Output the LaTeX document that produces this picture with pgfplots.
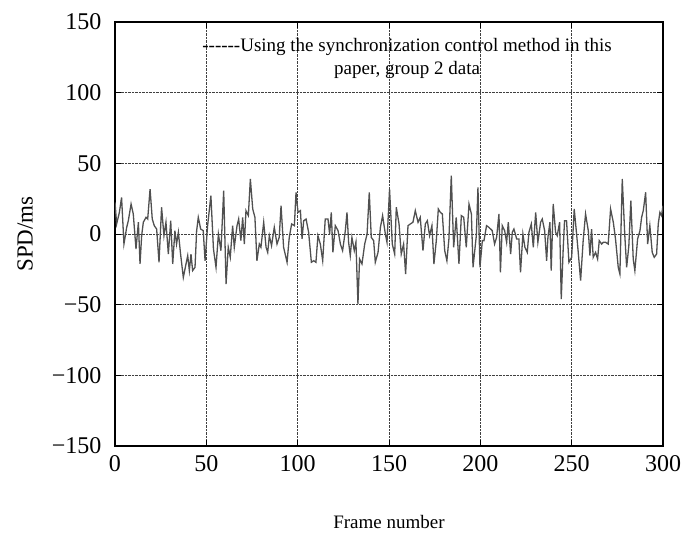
\documentclass[border=0pt]{standalone}
\usepackage{pgfplots}
\pgfplotsset{compat=1.18}
\usepackage{fontspec}
\setmainfont{Liberation Serif}
\definecolor{sig}{HTML}{505050}
\newcommand{\hy}{-\kern0pt}
\begin{document}
\begin{tikzpicture}
\path[use as bounding box] (-115pt,-87pt) rectangle (576pt,446pt);
\begin{axis}[
  scale only axis, width=548pt, height=424pt,
  xmin=0, xmax=300, ymin=-150, ymax=150,
  xtick={0,50,...,300}, ytick={-150,-100,...,150},
  xticklabels={0,50,100,150,200,250,300},
  yticklabels={−150,−100,−50,0,50,100,150},
  grid=major, grid style={densely dotted, black!75, line width=0.8pt},
  axis line style={line width=1.6pt},
  tick style={black, line width=0.8pt}, major tick length=6pt,
  tick align=inside,
  ticklabel style={font=\fontsize{24}{24}\selectfont},
  yticklabel style={xshift=-10pt},
  xticklabel style={yshift=-6pt},
  xlabel={Frame number},
  xlabel style={font=\fontsize{19}{19}\selectfont, at={(axis description cs:0.5,-0.179)}, anchor=center},
  ylabel={SPD/ms},
  ylabel style={font=\fontsize{23}{23}\selectfont, at={(axis description cs:-0.164,0.5)}, anchor=center},
]
\addplot[color=sig, line width=1.3pt] coordinates {
(0.0,22.4) (0.9,7.1) (2.4,15.3) (3.6,25.9) (4.9,-7.1) (6.4,4.7) (7.3,9.4) (8.8,21.2)
(10.0,14.2) (11.5,-10.6) (12.8,8.3) (13.7,-21.2) (14.6,-1.2) (15.5,8.3) (17.0,11.8) (17.9,10.6)
(19.2,31.8) (20.4,10.6) (21.5,5.9) (22.8,3.5) (24.1,-20.0) (25.5,18.9) (26.8,-1.2) (27.9,8.3)
(29.2,-14.2) (30.5,9.4) (31.6,-21.2) (32.8,2.4) (33.7,-7.1) (34.7,1.2) (35.9,-14.2) (37.4,-30.7)
(38.5,-23.6) (39.8,-15.3) (40.7,-25.9) (41.6,-14.2) (42.5,-25.9) (43.8,-23.6) (44.7,2.4) (45.6,11.8)
(46.9,3.5) (48.3,2.4) (49.3,-18.9) (50.7,5.9) (52.5,27.1) (53.9,-10.6) (55.3,-23.6) (56.6,0)
(58.0,-11.8) (59.5,30.7) (60.8,-35.4) (62.0,-9.4) (63.1,-16.5) (64.4,5.9) (65.3,-9.4) (66.8,5.9)
(67.7,10.6) (68.9,-4.7) (69.9,11.8) (70.8,-7.1) (71.7,16.5) (73.0,13.0) (74.1,38.9) (75.4,17.7)
(76.6,11.8) (77.7,-18.9) (79.0,-7.1) (79.9,-9.4) (81.4,8.3) (82.7,-9.4) (83.6,-13.0) (84.5,-1.2)
(85.7,-8.3) (87.2,4.7) (88.7,-7.1) (89.9,-2.4) (90.9,20.0) (92.3,-9.4) (94.2,-20.0) (95.4,-2.4)
(96.7,7.1) (98.2,5.9) (99.1,29.5) (100.2,15.3) (101.5,16.5) (102.4,-3.5) (103.3,9.4) (104.6,10.6)
(106.0,1.2) (107.5,-20.0) (108.8,-18.9) (110.0,-20.0) (111.1,-1.2) (112.4,-7.1) (113.7,-18.9) (115.1,10.6)
(116.6,10.6) (117.5,0) (118.4,15.3) (119.3,-13.0) (120.6,5.9) (122.1,2.4) (123.4,-7.1) (124.6,-11.8)
(126.1,2.4) (127.0,15.3) (127.9,-5.9) (128.8,-15.3) (129.7,-2.4) (131.0,-11.8) (131.9,-5.9) (133.0,-49.5)
(133.9,-17.7) (135.2,-21.2) (136.7,-7.1) (138.0,0) (139.2,29.5) (140.3,-2.4) (141.6,-4.7) (142.5,-20.0)
(144.0,-13.0) (145.3,4.7) (146.5,13.0) (148.0,0) (148.9,-5.9) (150.3,31.8) (151.8,-7.1) (153.1,-14.2)
(154.0,18.9) (155.5,7.1) (156.7,-14.2) (158.0,-7.1) (159.1,-28.3) (160.4,5.9) (161.7,7.1) (163.1,8.3)
(164.4,16.5) (165.9,8.3) (167.1,11.8) (168.6,-11.8) (169.9,7.1) (171.0,9.4) (172.2,-1.2) (173.5,5.9)
(174.6,-21.2) (175.9,-4.7) (177.0,17.7) (178.1,15.3) (179.2,14.2) (180.5,-11.8) (181.7,-18.9) (182.8,-3.5)
(184.1,41.3) (185.4,-9.4) (186.8,11.8) (188.3,-21.2) (189.6,13.0) (190.9,11.8) (192.3,-9.4) (193.8,21.2)
(195.1,14.2) (196.0,-23.6) (197.8,-1.2) (198.7,33.0) (199.8,-23.6) (201.1,-4.7) (202.0,-4.7) (203.4,5.9)
(204.7,4.7) (206.5,2.4) (207.8,-7.1) (208.9,-2.4) (210.2,14.2) (211.0,-27.1) (212.0,5.9) (213.3,2.4)
(214.4,-5.9) (215.3,8.3) (216.6,-14.2) (217.5,1.2) (218.4,3.5) (219.9,-3.5) (221.1,-3.5) (222.0,-27.1)
(223.3,0) (224.4,-9.4) (225.7,-13.0) (226.6,1.2) (227.9,7.1) (229.0,-9.4) (230.3,15.3) (231.5,-5.9)
(233.0,8.3) (233.9,10.6) (235.2,2.4) (236.3,-18.9) (237.0,-2.4) (238.1,8.3) (238.8,-25.9) (239.9,21.2)
(241.2,1.2) (242.1,-1.2) (243.4,8.3) (244.3,-46.0) (245.4,-9.4) (246.1,9.4) (247.2,9.4) (248.5,-20.0)
(250.0,-16.5) (251.4,17.7) (252.7,0) (253.6,-13.0) (254.9,-33.0) (256.3,-4.7) (257.6,14.2) (259.1,2.4)
(260.0,-15.3) (260.9,3.5) (261.8,-16.5) (263.1,-13.0) (264.2,-17.7) (265.1,-4.7) (266.4,-7.1) (267.3,-5.9)
(268.6,-5.9) (270.0,-7.1) (271.3,17.7) (272.8,8.3) (274.0,-3.5) (275.5,-23.6) (276.4,-28.3) (277.7,38.9)
(279.1,-1.2) (280.1,-23.6) (281.3,-8.3) (282.4,23.6) (283.7,-17.7) (284.6,-25.9) (286.1,-3.5) (287.4,2.4)
(288.3,11.8) (289.2,16.5) (290.5,29.5) (291.6,-7.1) (292.8,5.9) (294.1,-13.0) (295.2,-16.5) (296.5,-14.2)
(297.4,7.1) (298.3,15.3) (299.2,13.0) (300.0,20.0)
};
\node[font=\fontsize{19}{23}\selectfont, align=center] at (axis description cs:0.533,0.915)
  {\hy\hy\hy\hy\hy\hy Using the synchronization control method in this\\paper, group 2 data};
\end{axis}
\end{tikzpicture}
\end{document}
